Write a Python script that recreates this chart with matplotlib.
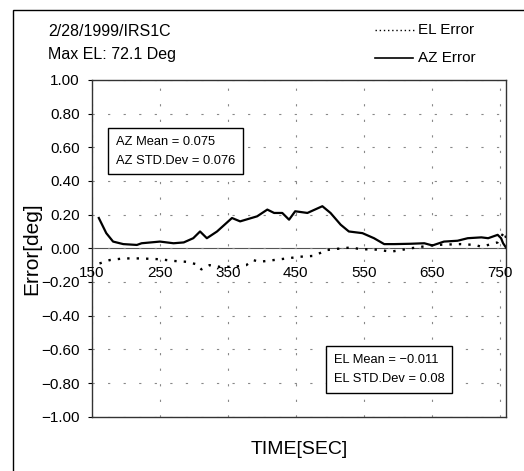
import matplotlib
matplotlib.use('Agg')
import matplotlib.pyplot as plt
from matplotlib.patches import Rectangle
from matplotlib.lines import Line2D

plt.rcParams['font.family'] = ['Liberation Sans Narrow', 'Liberation Sans', 'DejaVu Sans']

# AZ error (solid)
az_t = [160, 171, 181, 196, 216, 223, 250, 270, 285, 299, 309, 319, 334, 356, 368, 393,
        408, 418, 430, 440, 449, 467, 489, 501, 516, 528, 548, 565, 580, 595, 619, 639,
        651, 668, 688, 703, 723, 733, 747, 752, 755, 760]
az_err = [0.18, 0.09, 0.04, 0.025, 0.02, 0.03, 0.04, 0.03, 0.035, 0.06, 0.10, 0.06, 0.10,
          0.18, 0.16, 0.19, 0.23, 0.21, 0.21, 0.17, 0.22, 0.21, 0.25, 0.21, 0.14, 0.10,
          0.09, 0.06, 0.025, 0.025, 0.027, 0.03, 0.017, 0.04, 0.045, 0.06, 0.065, 0.06,
          0.08, 0.06, 0.03, 0.0]

# EL error (dotted)
el_t = [161, 176, 196, 221, 250, 270, 289, 304, 311, 323, 338, 358, 377, 387, 397, 417,
        437, 456, 476, 496, 511, 531, 545, 570, 590, 605, 619, 654, 693, 713, 723, 733,
        747, 757, 760]
el_err = [-0.09, -0.07, -0.06, -0.06, -0.065, -0.075, -0.08, -0.095, -0.125, -0.10, -0.11,
          -0.11, -0.10, -0.07, -0.08, -0.07, -0.06, -0.05, -0.045, -0.01, -0.003, 0.005,
          -0.005, -0.008, -0.02, -0.01, 0.0, 0.02, 0.025, 0.02, 0.01, 0.02, 0.035, 0.10, 0.05]

x_ticks = [150, 250, 350, 450, 550, 650, 750]
y_ticks = [1.0, 0.8, 0.6, 0.4, 0.2, 0.0, -0.2, -0.4, -0.6, -0.8, -1.0]

fig = plt.figure(figsize=(5.24, 4.71), dpi=100)
ax = fig.add_axes([0.1756, 0.1153, 0.791, 0.715])

# outer frame
fig.patches.append(Rectangle((13 / 524, -0.1), 1.2, 1 - 10 / 471 + 0.1,
                             transform=fig.transFigure, fill=False,
                             edgecolor='black', linewidth=1.0))

ax.plot(az_t, az_err, color='black', linewidth=1.6)
ax.plot(el_t, el_err, color='black', linewidth=1.7, linestyle=(0, (1, 3)))
ax.axhline(0, color='#555555', linewidth=0.8, zorder=1)

ax.set_xlim(150, 760)
ax.set_ylim(-1.0, 1.0)
ax.set_yticks(y_ticks)
ax.set_yticklabels([f'{v:.2f}'.replace('-', '\u2212') for v in y_ticks], fontsize=11)
ax.set_xticks(x_ticks)
ax.set_xticklabels([])
ax.tick_params(axis='x', length=0)
ax.tick_params(axis='y', length=3, pad=6)
ax.grid(True, color='#888888', linestyle=(0, (2, 12)), linewidth=0.8)

for t in x_ticks:
    ax.text(t, -0.145, str(t), ha='center', va='center', fontsize=11)

for s in ax.spines.values():
    s.set_color('#333333')
    s.set_linewidth(1.0)

ax.set_ylabel('Error[deg]', fontsize=15)
ax.yaxis.set_label_coords(-0.122, 0.5)
ax.set_xlabel('TIME[SEC]', fontsize=14, labelpad=14)

fig.text(48 / 524, 1 - 32 / 471, '2/28/1999/IRS1C', fontsize=11.5, va='center')
fig.text(48 / 524, 1 - 55 / 471, 'Max EL: 72.1 Deg', fontsize=11.5, va='center')

# legend
fig.add_artist(Line2D([375 / 524, 415 / 524], [1 - 30 / 471] * 2, color='black',
                      linewidth=1.0, linestyle=(0, (1, 2))))
fig.add_artist(Line2D([375 / 524, 413 / 524], [1 - 58 / 471] * 2, color='black',
                      linewidth=1.2))
fig.text(418 / 524, 1 - 30 / 471, 'EL Error', fontsize=11, va='center')
fig.text(418 / 524, 1 - 58 / 471, 'AZ Error', fontsize=11, va='center')

# stats boxes
box = dict(boxstyle='square,pad=0.6', facecolor='white', edgecolor='black', linewidth=1.0)
ax.text(0.058, 0.788, 'AZ Mean = 0.075\nAZ STD.Dev = 0.076', transform=ax.transAxes,
        fontsize=9.3, va='center', ha='left', linespacing=1.75, bbox=box)
ax.text(0.583, 0.14, 'EL Mean = \u22120.011\nEL STD.Dev = 0.08', transform=ax.transAxes,
        fontsize=9.3, va='center', ha='left', linespacing=1.75, bbox=box)

fig.savefig('out.png', dpi=100)
